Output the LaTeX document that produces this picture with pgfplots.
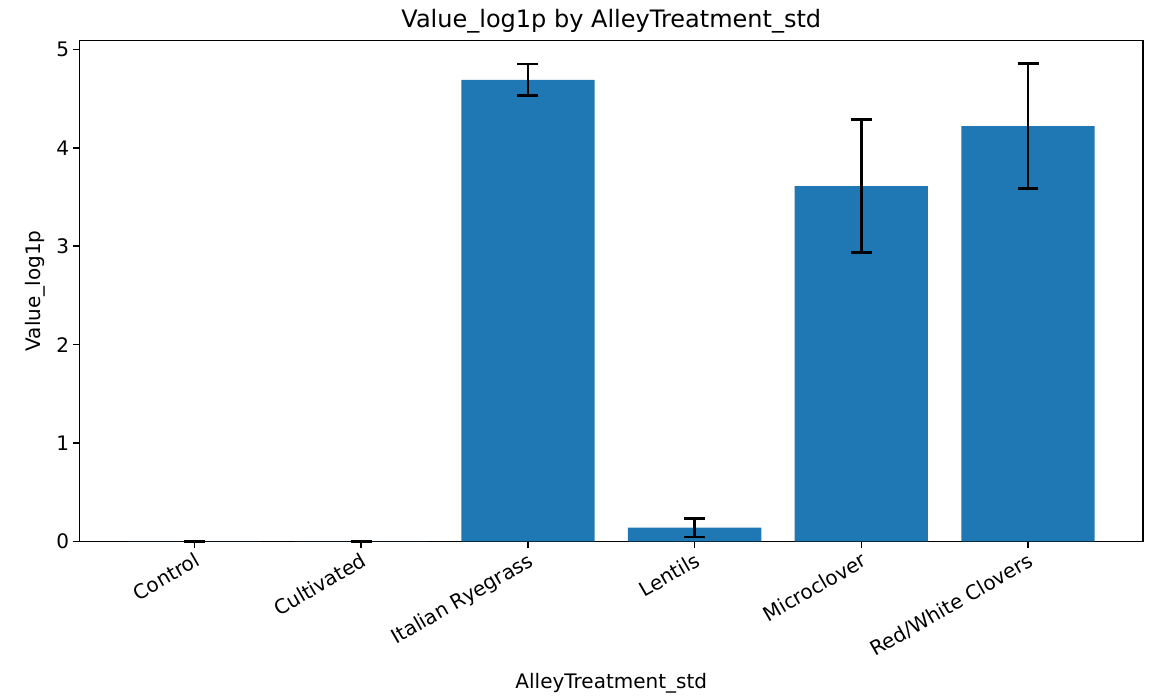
\documentclass[border=0pt]{standalone}
\usepackage{pgfplots}
\pgfplotsset{compat=1.18}
\usepackage{fontspec}
\setmainfont{DejaVu Sans}
\definecolor{mplblue}{HTML}{1F77B4}
\begin{document}
\begin{tikzpicture}
\begin{axis}[
  scale only axis,
  width=531.75pt, height=250.5pt,
  xmin=-0.69, xmax=5.69,
  ymin=0, ymax=5.09,
  xtick={0,1,2,3,4,5},
  xticklabels={Control,Cultivated,Italian Ryegrass,Lentils,Microclover,Red/White Clovers},
  x tick label style={rotate=30, anchor=north east, inner sep=1pt, font=\fontsize{10}{12}\selectfont},
  ytick={0,1,2,3,4,5},
  y tick label style={font=\fontsize{10}{12}\selectfont, inner sep=1.5pt},
  /pgf/number format/assume math mode=true,
  tick align=outside,
  xtick pos=bottom, ytick pos=left,
  major tick length=3.5pt,
  tick style={black, line width=0.8pt},
  axis line style={line width=0.8pt},
  title={Value\_log1p by AlleyTreatment\_std},
  title style={font=\fontsize{12}{14}\selectfont, yshift=-3.5pt, inner sep=1pt},
  xlabel={AlleyTreatment\_std},
  ylabel={Value\_log1p},
  label style={font=\fontsize{10}{12}\selectfont},
  xlabel style={yshift=-5pt, inner sep=1pt},
  ylabel style={yshift=0.5pt},
  clip=false,
]
\addplot[ybar, bar width=0.8, fill=mplblue, draw=none,
  error bars/.cd, y dir=both, y explicit,
  error bar style={black, line width=1.4pt},
  error mark options={black, rotate=90, mark size=5.25pt, line width=1.4pt}]
  table[x=x, y=y, y error=e] {
x y e
0 0 0
1 0 0
2 4.69 0.16
3 0.14 0.095
4 3.61 0.675
5 4.22 0.635
};
\path (rel axis cs:-0.0748,-0.3074) (rel axis cs:1.0094,1.0808);
\end{axis}
\end{tikzpicture}
\end{document}
